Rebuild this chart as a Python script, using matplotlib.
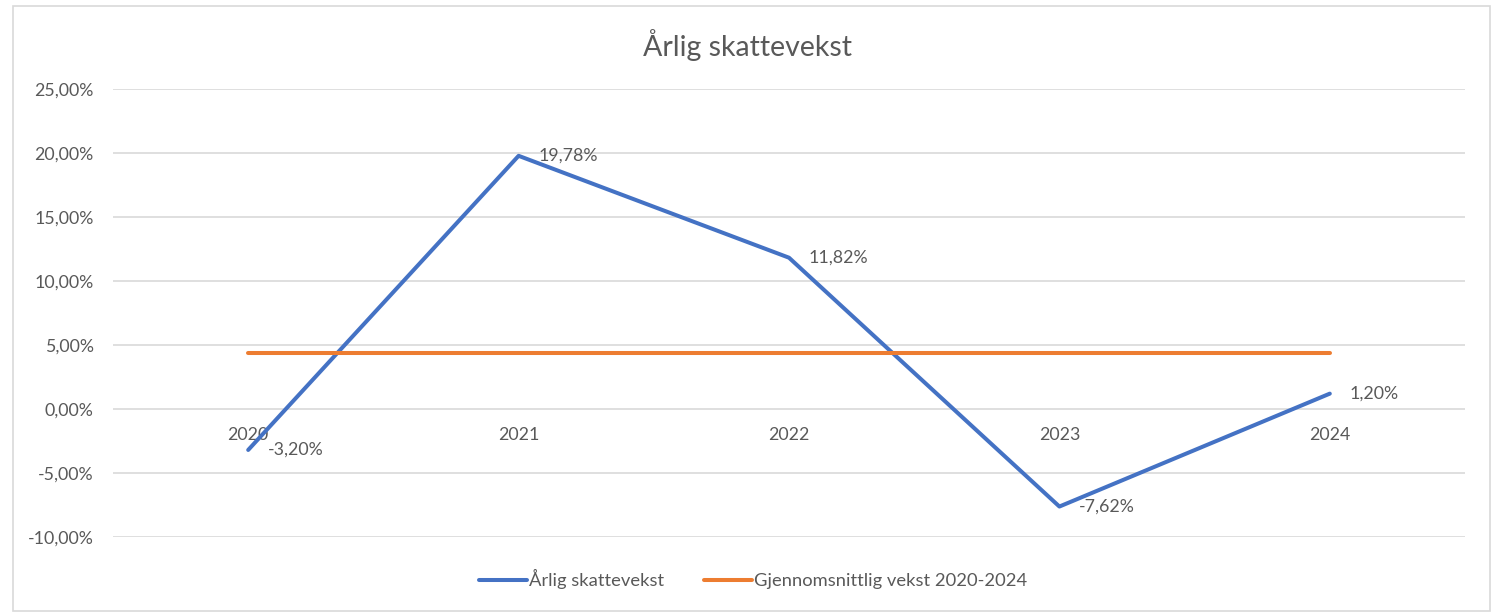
import matplotlib.pyplot as plt
from matplotlib.patches import Rectangle
from matplotlib.ticker import FuncFormatter

plt.rcParams['font.family'] = ['Lato', 'DejaVu Sans']

# data
aar = ["2020", "2021", "2022", "2023", "2024"]
vekst = [-3.20, 19.78, 11.82, -7.62, 1.20]
snitt = [4.40, 4.40, 4.40, 4.40, 4.40]
etiketter = ["-3,20%", "19,78%", "11,82%", "-7,62%", "1,20%"]

blaa = "#4472C4"
oransje = "#ED7D31"
grå_tekst = "#595959"
fs = 12.8

fig = plt.figure(figsize=(14.95, 6.14), dpi=100)
ax = fig.add_axes([113/1495, 1-537/614, (1465-113)/1495, (537-89)/614])

x = range(len(aar))
ax.plot(x, vekst, color=blaa, lw=2.9, label="Årlig skattevekst", solid_capstyle="round", zorder=3)
ax.plot(x, snitt, color=oransje, lw=2.9, label="Gjennomsnittlig vekst 2020-2024", solid_capstyle="round", zorder=3)

# dataetiketter til høyre for punktene
for i, (v, t) in enumerate(zip(vekst, etiketter)):
    ax.annotate(t, (i, v), xytext=(14, 0), textcoords="offset points",
                ha="left", va="center", fontsize=fs, color=grå_tekst, zorder=4)

# kategorietiketter ved 0-linjen (som i Excel)
for i, a in enumerate(aar):
    ax.annotate(a, (i, 0), xytext=(0, -19), textcoords="offset points",
                ha="center", va="center", fontsize=fs, color=grå_tekst, zorder=2)

ax.set_xlim(-0.5, 4.5)
ax.set_ylim(-10, 25)
ax.set_yticks(range(-10, 30, 5))
ax.yaxis.set_major_formatter(FuncFormatter(lambda v, p: ("%.2f%%" % v).replace(".", ",")))
ax.set_xticks([])
ax.tick_params(axis="y", length=0, pad=14, labelsize=fs, labelcolor=grå_tekst)
ax.grid(axis="y", color="#D9D9D9", lw=1.2)
ax.set_axisbelow(True)
for s in ax.spines.values():
    s.set_visible(False)

fig.text(0.5, 1-45/614, "Årlig skattevekst", ha="center", va="center", fontsize=20.5, color=grå_tekst)

ax.legend(loc="center", bbox_to_anchor=(753/1495, 1-579/614), bbox_transform=fig.transFigure,
          ncol=2, frameon=False, fontsize=13.2, labelcolor=grå_tekst,
          handlelength=2.6, handletextpad=0.1, columnspacing=2.2)

# ramme rundt diagrammet
fig.patches.append(Rectangle((13/1495, 1-611/614), (1490-13)/1495, (611-6)/614,
                             transform=fig.transFigure, fill=False, edgecolor="#D9D9D9", lw=1.2))

fig.savefig("out.png", dpi=100)
